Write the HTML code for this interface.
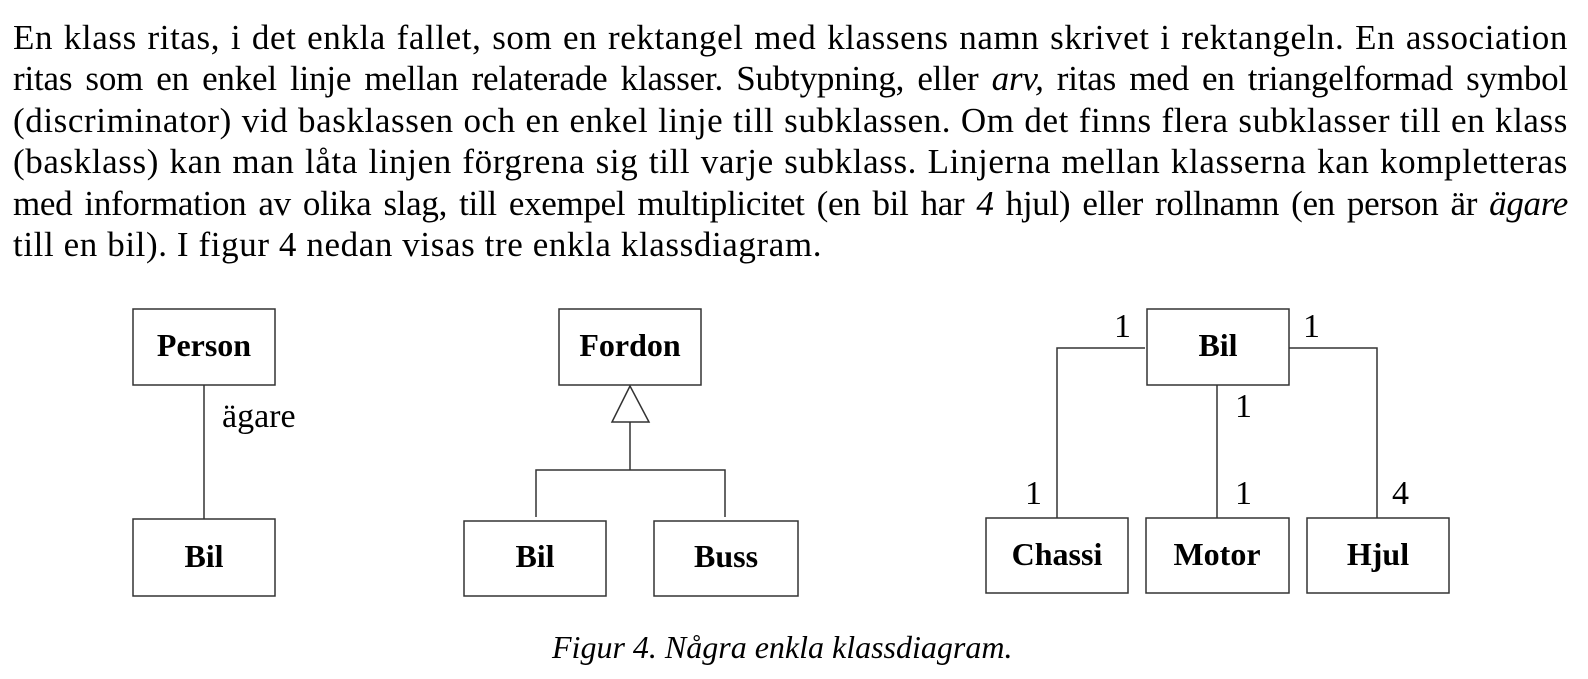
<!DOCTYPE html>
<html><head><meta charset="utf-8"><style>
html,body{margin:0;padding:0;background:#fff;}
body{width:1588px;height:679px;position:relative;overflow:hidden;font-family:"Liberation Serif",serif;color:#000;}
.l{position:absolute;left:13px;width:1555px;font-size:35px;letter-spacing:0.6px;line-height:40px;text-align:justify;text-align-last:justify;white-space:nowrap;}
.l.last{text-align-last:left;}
svg{position:absolute;left:0;top:0;}
</style></head><body>
<div class="l" style="top:18px">En klass ritas, i det enkla fallet, som en rektangel med klassens namn skrivet i rektangeln. En association</div>
<div class="l" style="top:59px;letter-spacing:-0.2px">ritas som en enkel linje mellan relaterade klasser. Subtypning, eller <i>arv,</i> ritas med en triangelformad symbol</div>
<div class="l" style="top:101px">(discriminator) vid basklassen och en enkel linje till subklassen. Om det finns flera subklasser till en klass</div>
<div class="l" style="top:142px">(basklass) kan man låta linjen förgrena sig till varje subklass. Linjerna mellan klasserna kan kompletteras</div>
<div class="l" style="top:184px;letter-spacing:-0.3px">med information av olika slag, till exempel multiplicitet (en bil har <i>4</i> hjul) eller rollnamn (en person är <i>ägare</i></div>
<div class="l last" style="top:225px">till en bil). I figur 4 nedan visas tre enkla klassdiagram.</div>

<svg width="1588" height="679" xmlns="http://www.w3.org/2000/svg">
<g fill="none" stroke="#333" stroke-width="1.5">
<rect x="133" y="309" width="142" height="76"/>
<rect x="133" y="519" width="142" height="77"/>
<line x1="204" y1="385" x2="204" y2="519"/>
<rect x="559" y="309" width="142" height="76"/>
<polygon points="630,386 612,422 649,422"/>
<line x1="630" y1="422" x2="630" y2="470"/>
<polyline points="536,517 536,470 725,470 725,517"/>
<rect x="464" y="521" width="142" height="75"/>
<rect x="654" y="521" width="144" height="75"/>
<rect x="1147" y="309" width="142" height="76"/>
<polyline points="1145,348 1057,348 1057,518"/>
<polyline points="1289,348 1377,348 1377,518"/>
<line x1="1217" y1="385" x2="1217" y2="518"/>
<rect x="986" y="518" width="142" height="75"/>
<rect x="1146" y="518" width="143" height="75"/>
<rect x="1307" y="518" width="142" height="75"/>
</g>
<g font-family="Liberation Serif, serif" font-weight="bold" font-size="32" text-anchor="middle" fill="#000">
<text x="204" y="356">Person</text>
<text x="204" y="567">Bil</text>
<text x="630" y="356">Fordon</text>
<text x="535" y="567">Bil</text>
<text x="726" y="567">Buss</text>
<text x="1218" y="356">Bil</text>
<text x="1057" y="565">Chassi</text>
<text x="1217" y="565">Motor</text>
<text x="1378" y="565">Hjul</text>
</g>
<g font-family="Liberation Serif, serif" font-size="34" fill="#000">
<text x="222" y="427">ägare</text>
<text x="1114" y="337">1</text>
<text x="1303" y="337">1</text>
<text x="1235" y="417">1</text>
<text x="1025" y="504">1</text>
<text x="1235" y="504">1</text>
<text x="1392" y="504">4</text>
</g>
<text x="552" y="658" font-family="Liberation Serif, serif" font-style="italic" font-size="32" fill="#000">Figur 4. Några enkla klassdiagram.</text>
</svg>
</body></html>
